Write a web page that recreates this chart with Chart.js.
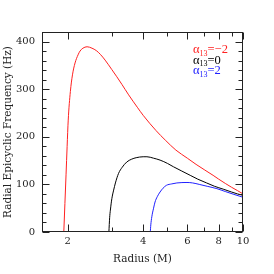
<!DOCTYPE html>
<html>
<head>
<meta charset="utf-8">
<script src="https://cdn.jsdelivr.net/npm/chart.js@4/dist/chart.umd.min.js"></script>
<style>
  html, body { margin: 0; padding: 0; background: #fff; }
</style>
</head>
<body>
<canvas id="chart" width="274" height="274"></canvas>
<script>
// alpha13 = -2, 0, 2
const seriesNames = ["\u03b1", "\u03b1", "\u03b1"];
const seriesValues = ["=\u22122", "=0", "=2"];
const seriesColors = ["#ff2020", "#000000", "#2020ff"];

const redX = [1.93, 1.95, 1.97, 1.99, 2.01, 2.05, 2.09, 2.14, 2.2, 2.24, 2.3, 2.39, 2.5, 2.6, 2.7, 2.82, 3.0, 3.14, 3.29, 3.5, 3.79, 4.0, 4.5, 4.9, 5.4, 6.0, 6.5, 7.0, 7.6, 8.0, 8.5, 9.0, 9.5, 10];
const redY = [0, 60, 120, 180, 235, 295, 330, 355, 372, 380, 386, 389, 386, 381, 373, 361, 341, 326, 310, 288, 262, 245, 213, 193, 172, 155, 142, 131, 119, 111, 102, 94, 87, 80];

const blackX = [2.92, 2.94, 2.96, 3.0, 3.05, 3.1, 3.19, 3.3, 3.44, 3.6, 3.75, 4.0, 4.14, 4.4, 4.67, 5.0, 5.28, 5.7, 6.16, 6.6, 7.16, 7.7, 8.34, 9.0, 9.5, 10];
const blackY = [0, 30, 46, 70, 88, 103, 123, 136, 147, 153, 156, 158, 158, 155, 151, 144, 137, 128, 119, 111, 103, 96, 90, 84, 80, 77];

const blueX = [4.27, 4.29, 4.33, 4.4, 4.46, 4.55, 4.67, 4.8, 4.95, 5.2, 5.45, 5.98, 6.3, 6.69, 7.2, 7.87, 8.5, 9.2, 10];
const blueY = [0, 15, 32, 50, 63, 74, 84, 92, 98, 101, 103, 104, 103, 100, 96, 91, 85, 79, 73];

const xTicks = [2, 4, 6, 8, 10];
const xMinorTicks = [3, 5, 7, 9];
const yTicks = [0, 100, 200, 300, 400];
const yMinorTicks = [20, 40, 60, 80, 120, 140, 160, 180, 220, 240, 260, 280, 320, 340, 360, 380];

const toPoints = (xs, ys) => xs.map((x, i) => ({ x: x, y: ys[i] }));
const serif = "'DejaVu Serif', serif";
const legendFont = "'Liberation Serif', serif";

// frame with inward ticks on all four sides, plus the legend in the corner
const framePlugin = {
  id: "frame",
  afterDraw(chart) {
    const { ctx, chartArea: a, scales: { x, y } } = chart;
    const L = a.left + 0.5, R = a.right - 0.5, T = a.top + 0.5, B = a.bottom - 0.5;
    ctx.save();
    ctx.strokeStyle = "#222";
    ctx.lineWidth = 1;
    ctx.strokeRect(L, T, R - L, B - T);
    ctx.beginPath();
    const xt = (v, len) => {
      const p = Math.round(x.getPixelForValue(v)) + 0.5;
      ctx.moveTo(p, B); ctx.lineTo(p, B - len);
      ctx.moveTo(p, T); ctx.lineTo(p, T + len);
    };
    const yt = (v, len) => {
      const p = Math.round(y.getPixelForValue(v)) + 0.5;
      ctx.moveTo(L, p); ctx.lineTo(L + len, p);
      ctx.moveTo(R, p); ctx.lineTo(R - len, p);
    };
    xTicks.forEach(v => xt(v, 7));
    xMinorTicks.forEach(v => xt(v, 4));
    yTicks.forEach(v => yt(v, 7));
    yMinorTicks.forEach(v => yt(v, 4));
    ctx.stroke();

    // legend: alpha with subscript 13
    ctx.textBaseline = "alphabetic";
    ctx.textAlign = "left";
    seriesNames.forEach((name, i) => {
      let px = 193;
      const py = 53 + i * 10.5;
      ctx.fillStyle = seriesColors[i];
      ctx.font = "12.5px " + legendFont;
      ctx.fillText(name, px, py);
      px += ctx.measureText(name).width;
      ctx.font = "8px " + legendFont;
      ctx.fillText("13", px, py + 2.5);
      px += ctx.measureText("13").width;
      ctx.font = "12.5px " + legendFont;
      ctx.fillText(seriesValues[i], px, py);
    });
    ctx.restore();
  }
};

new Chart(document.getElementById("chart"), {
  type: "scatter",
  data: {
    datasets: [
      { data: toPoints(redX, redY), borderColor: seriesColors[0] },
      { data: toPoints(blackX, blackY), borderColor: seriesColors[1] },
      { data: toPoints(blueX, blueY), borderColor: seriesColors[2] }
    ].map(d => Object.assign(d, {
      showLine: true,
      pointRadius: 0,
      borderWidth: 1,
      cubicInterpolationMode: "monotone",
      fill: false
    }))
  },
  options: {
    responsive: false,
    animation: false,
    layout: { padding: { top: 32, right: 31, left: 0, bottom: 0 } },
    plugins: { legend: { display: false }, tooltip: { enabled: false } },
    scales: {
      x: {
        type: "logarithmic",
        min: 1.58,
        max: 10,
        afterBuildTicks: s => { s.ticks = xTicks.map(v => ({ value: v })); },
        afterFit: s => { s.height = 42; },
        grid: { display: false, drawTicks: false },
        border: { display: false },
        ticks: {
          autoSkip: false,
          maxRotation: 0,
          padding: 3,
          color: "#222",
          font: { family: serif, size: 10 },
          callback: v => String(v)
        },
        title: {
          display: true,
          text: "Radius (M)",
          color: "#222",
          font: { family: serif, size: 10.5 },
          padding: { top: 0, bottom: 8 }
        }
      },
      y: {
        min: 0,
        max: 420,
        afterBuildTicks: s => { s.ticks = yTicks.map(v => ({ value: v })); },
        afterFit: s => { s.width = 42; },
        grid: { display: false, drawTicks: false },
        border: { display: false },
        ticks: {
          padding: 7,
          color: "#222",
          font: { family: serif, size: 10 }
        },
        title: {
          display: true,
          text: "Radial Epicyclic Frequency (Hz)",
          color: "#222",
          font: { family: serif, size: 10.5 },
          padding: { top: 2, bottom: 0 }
        }
      }
    }
  },
  plugins: [framePlugin]
});
</script>
</body>
</html>
